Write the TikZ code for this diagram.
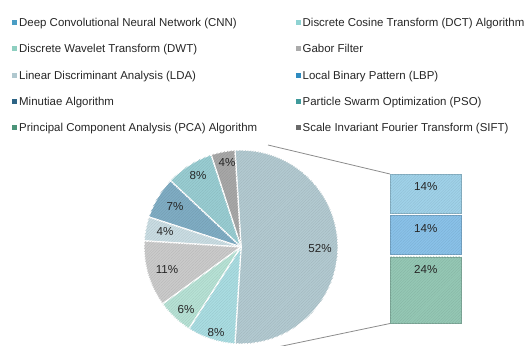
\documentclass[tikz,border=0pt]{standalone}
\usepackage{fontspec}
\setmainfont{Liberation Sans}
\usetikzlibrary{patterns.meta}

% legend colours
\definecolor{cCNN}{HTML}{4A9DC4}
\definecolor{cDCT}{HTML}{8FD3D3}
\definecolor{cDWT}{HTML}{8ECFC0}
\definecolor{cGAB}{HTML}{ABABAB}
\definecolor{cLDA}{HTML}{B0C8CF}
\definecolor{cLBP}{HTML}{2E8BC0}
\definecolor{cMIN}{HTML}{2D6485}
\definecolor{cPSO}{HTML}{3F9A9B}
\definecolor{cPCA}{HTML}{4B9479}
\definecolor{cSIFT}{HTML}{6A6A6A}
% chart fills
\definecolor{fOther}{HTML}{B3CAD1}
\definecolor{fSIFT}{HTML}{A8A8A8}
\definecolor{fPSO}{HTML}{99CDD2}
\definecolor{fMIN}{HTML}{80ADC4}
\definecolor{fLDA}{HTML}{CADDE3}
\definecolor{fGAB}{HTML}{CBCBCB}
\definecolor{fDWT}{HTML}{B7E2D5}
\definecolor{fDCT}{HTML}{AADDE2}
\definecolor{fCNN}{HTML}{A0D2E9}
\definecolor{fLBP}{HTML}{8AC2E9}
\definecolor{fPCA}{HTML}{95C8B5}
\definecolor{txt}{HTML}{262626}
\definecolor{conn}{HTML}{8C8C8C}

\tikzset{
  legsq/.style={fill=#1, draw=none, minimum size=5pt, inner sep=0pt},
  legtext/.style={anchor=base west, inner sep=0pt, text=txt,
    font=\fontsize{11.45}{13}\selectfont},
  pctlabel/.style={inner sep=0pt, text=txt, font=\fontsize{11.6}{13}\selectfont},
  hatch/.style={postaction={pattern={Lines[angle=45,distance=2pt,line width=0.35pt]}, pattern color=#1!90!black}},
  wedge/.style={fill=#1, draw=white, line width=1.4pt, line join=round, hatch=#1},
  barbox/.style={fill=#1, draw=#1!80!black, line width=0.5pt, minimum width=71pt,
    anchor=north west, inner sep=0pt, hatch=#1},
  connector/.style={draw=conn, line width=0.8pt}
}

\newcommand{\pieslice}[3]{%
  \fill[wedge=#3] (pc) -- ++(#1:97pt) arc[start angle=#1, end angle=#2, radius=97pt] -- cycle;}

\begin{document}
\begin{tikzpicture}[x=1pt,y=1pt]
\useasboundingbox (0,0) rectangle (529,-345);

% legend, two columns
\foreach \txtlbl/\col/\xx/\yy [count=\i] in {
  Deep Convolutional Neural Network (CNN)/cCNN/0/22.5,
  Discrete Cosine Transform (DCT) Algorithm/cDCT/1/22.5,
  Discrete Wavelet Transform (DWT)/cDWT/0/48.75,
  Gabor Filter/cGAB/1/48.75,
  Linear Discriminant Analysis (LDA)/cLDA/0/75,
  Local Binary Pattern (LBP)/cLBP/1/75,
  Minutiae Algorithm/cMIN/0/101.25,
  Particle Swarm Optimization (PSO)/cPSO/1/101.25,
  Principal Component Analysis (PCA) Algorithm/cPCA/0/127.5,
  Scale Invariant Fourier Transform (SIFT)/cSIFT/1/127.5}{
  \node[legsq=\col] (sq\i) at ({14.3+\xx*284.2},-\yy) {};
  \node[legtext] (lg\i) at ({19+\xx*283.5},{-\yy-4.1}) {\txtlbl};
}

% pie centre and ends of the connector lines
\coordinate (pc) at (241,-247);
\coordinate (ptop) at (268,-145);
\coordinate (pbot) at (268,-349);

% bar of the split-off part
\node[barbox=fCNN, minimum height=38.8pt] (b1) at (390,-174) {};
\node[barbox=fLBP, minimum height=38.8pt] (b2) at (390,-215.3) {};
\node[barbox=fPCA, minimum height=66.4pt] (b3) at (390,-256.6) {};
\node[pctlabel] (t1) at ([yshift=-13pt]b1.north) {14\%};
\node[pctlabel] (t2) at ([yshift=-13pt]b2.north) {14\%};
\node[pctlabel] (t3) at ([yshift=-13pt]b3.north) {24\%};

% connector lines from the pie to the bar
\draw[connector] (ptop) -- (b1.north west);
\draw[connector] (pbot) -- (b3.south west);

% pie wedges
\pieslice{-93.6}{93.6}{fOther}
\pieslice{93.6}{108}{fSIFT}
\pieslice{108}{136.8}{fPSO}
\pieslice{136.8}{162}{fMIN}
\pieslice{162}{176.4}{fLDA}
\pieslice{176.4}{216}{fGAB}
\pieslice{216}{237.6}{fDWT}
\pieslice{237.6}{266.4}{fDCT}

% wedge labels
\node[pctlabel] (p52) at (320,-249) {52\%};
\node[pctlabel] (pSIFT) at (227,-163) {4\%};
\node[pctlabel] (pPSO) at (198,-176) {8\%};
\node[pctlabel] (pMIN) at (175,-207) {7\%};
\node[pctlabel] (pLDA) at (165,-232) {4\%};
\node[pctlabel] (pGAB) at (167,-270) {11\%};
\node[pctlabel] (pDWT) at (186,-310) {6\%};
\node[pctlabel] (pDCT) at (216,-333) {8\%};
\end{tikzpicture}
\end{document}
